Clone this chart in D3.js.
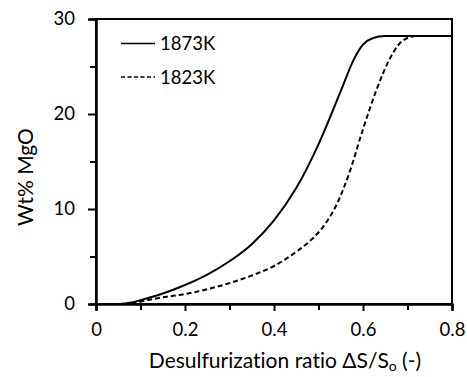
<!DOCTYPE html>
<html>
<head>
<meta charset="utf-8">
<script src="https://cdn.jsdelivr.net/npm/d3@7"></script>
<style>
  html, body { margin: 0; padding: 0; background: #fff; }
  svg { display: block; font-family: Lato, "Open Sans", sans-serif; font-variant-ligatures: none; }
</style>
</head>
<body>
<svg id="chart" width="467" height="377"></svg>
<script>
// Desulfurization ratio vs. MgO content, two temperatures
const ratio1873 = [0.055, 0.08, 0.10, 0.15, 0.20, 0.25, 0.30, 0.35, 0.40, 0.45, 0.50, 0.55, 0.58, 0.60, 0.62, 0.65, 0.70, 0.80];
const mgo1873   = [0, 0.15, 0.4, 1.1, 2.0, 3.1, 4.5, 6.3, 8.8, 12.2, 16.8, 22.4, 25.8, 27.3, 27.95, 28.2, 28.2, 28.2];
const ratio1823 = [0.08, 0.10, 0.15, 0.20, 0.25, 0.30, 0.35, 0.40, 0.45, 0.48, 0.51, 0.54, 0.57, 0.60, 0.63, 0.66, 0.68, 0.70, 0.72, 0.80];
const mgo1823   = [0, 0.25, 0.7, 1.05, 1.55, 2.2, 3.0, 4.0, 5.5, 6.6, 8.1, 10.4, 13.9, 18.4, 22.5, 25.8, 27.3, 28.0, 28.2, 28.2];
const seriesNames = ["1873K", "1823K"];
const xTicks = [0, 0.2, 0.4, 0.6, 0.8];
const xMinor = [0.1, 0.3, 0.5, 0.7];
const yTicks = [0, 10, 20, 30];
const yMinor = [5, 15, 25];

const svg = d3.select("#chart");
const plotL = 96, plotR = 452, plotT = 19, plotB = 304;

const x = d3.scaleLinear().domain([0, 0.8]).range([plotL, plotR]);
const y = d3.scaleLinear().domain([0, 30]).range([plotB, plotT]);

// frame
svg.append("rect")
  .attr("x", plotL).attr("y", plotT)
  .attr("width", plotR - plotL).attr("height", plotB - plotT)
  .attr("fill", "none").attr("stroke", "#000").attr("stroke-width", 2);

// axes
const fmtX = d => d === 0 ? "0" : d3.format(".1f")(d);
const xAxis = svg.append("g").attr("transform", `translate(0,${plotB})`)
  .call(d3.axisBottom(x).tickValues(xTicks).tickFormat(fmtX).tickSize(7).tickPadding(12));
const xAxisMinor = svg.append("g").attr("transform", `translate(0,${plotB})`)
  .call(d3.axisBottom(x).tickValues(xMinor).tickFormat("").tickSize(6));
const yAxis = svg.append("g").attr("transform", `translate(${plotL},0)`)
  .call(d3.axisLeft(y).tickValues(yTicks).tickFormat(d3.format("d")).tickSize(8).tickPadding(13));
const yAxisMinor = svg.append("g").attr("transform", `translate(${plotL},0)`)
  .call(d3.axisLeft(y).tickValues(yMinor).tickFormat("").tickSize(6));

[xAxis, xAxisMinor, yAxis, yAxisMinor].forEach(g => {
  g.select(".domain").attr("stroke-width", 2);
  g.selectAll(".tick line").attr("stroke-width", 2);
  g.selectAll(".tick text").attr("font-size", 18.5).attr("fill", "#000")
    .attr("font-family", "Lato, 'Open Sans', sans-serif");
});

// curves
const line = d3.line().x(d => x(d[0])).y(d => y(d[1])).curve(d3.curveMonotoneX);
const data1873 = ratio1873.map((r, i) => [r, mgo1873[i]]);
const data1823 = ratio1823.map((r, i) => [r, mgo1823[i]]);

svg.append("path").datum(data1823)
  .attr("d", line).attr("fill", "none").attr("stroke", "#000")
  .attr("stroke-width", 2).attr("stroke-dasharray", "5,3");
svg.append("path").datum(data1873)
  .attr("d", line).attr("fill", "none").attr("stroke", "#000")
  .attr("stroke-width", 2);

// legend
const legend = svg.append("g");
const legendRows = [{ name: seriesNames[0], dash: null, ly: 43.5 },
                    { name: seriesNames[1], dash: "4,2.5", ly: 77 }];
legendRows.forEach(r => {
  legend.append("line")
    .attr("x1", 121).attr("x2", 155).attr("y1", r.ly).attr("y2", r.ly)
    .attr("stroke", "#000").attr("stroke-width", 1.6)
    .attr("stroke-dasharray", r.dash);
  legend.append("text")
    .attr("x", 160).attr("y", r.ly).attr("dy", "0.36em")
    .attr("font-size", 18.5).text(r.name);
});

// axis titles
const xTitle = svg.append("text")
  .attr("x", 285).attr("y", 368).attr("text-anchor", "middle")
  .attr("font-size", 21);
xTitle.append("tspan").text("Desulfurization ratio ΔS/S");
xTitle.append("tspan").attr("font-size", 14).attr("dy", 3).text("o");
xTitle.append("tspan").attr("dy", -3).text(" (-)");

svg.append("text")
  .attr("transform", "translate(33,177) rotate(-90)")
  .attr("text-anchor", "middle").attr("font-size", 21)
  .text("Wt% MgO");
</script>
</body>
</html>
